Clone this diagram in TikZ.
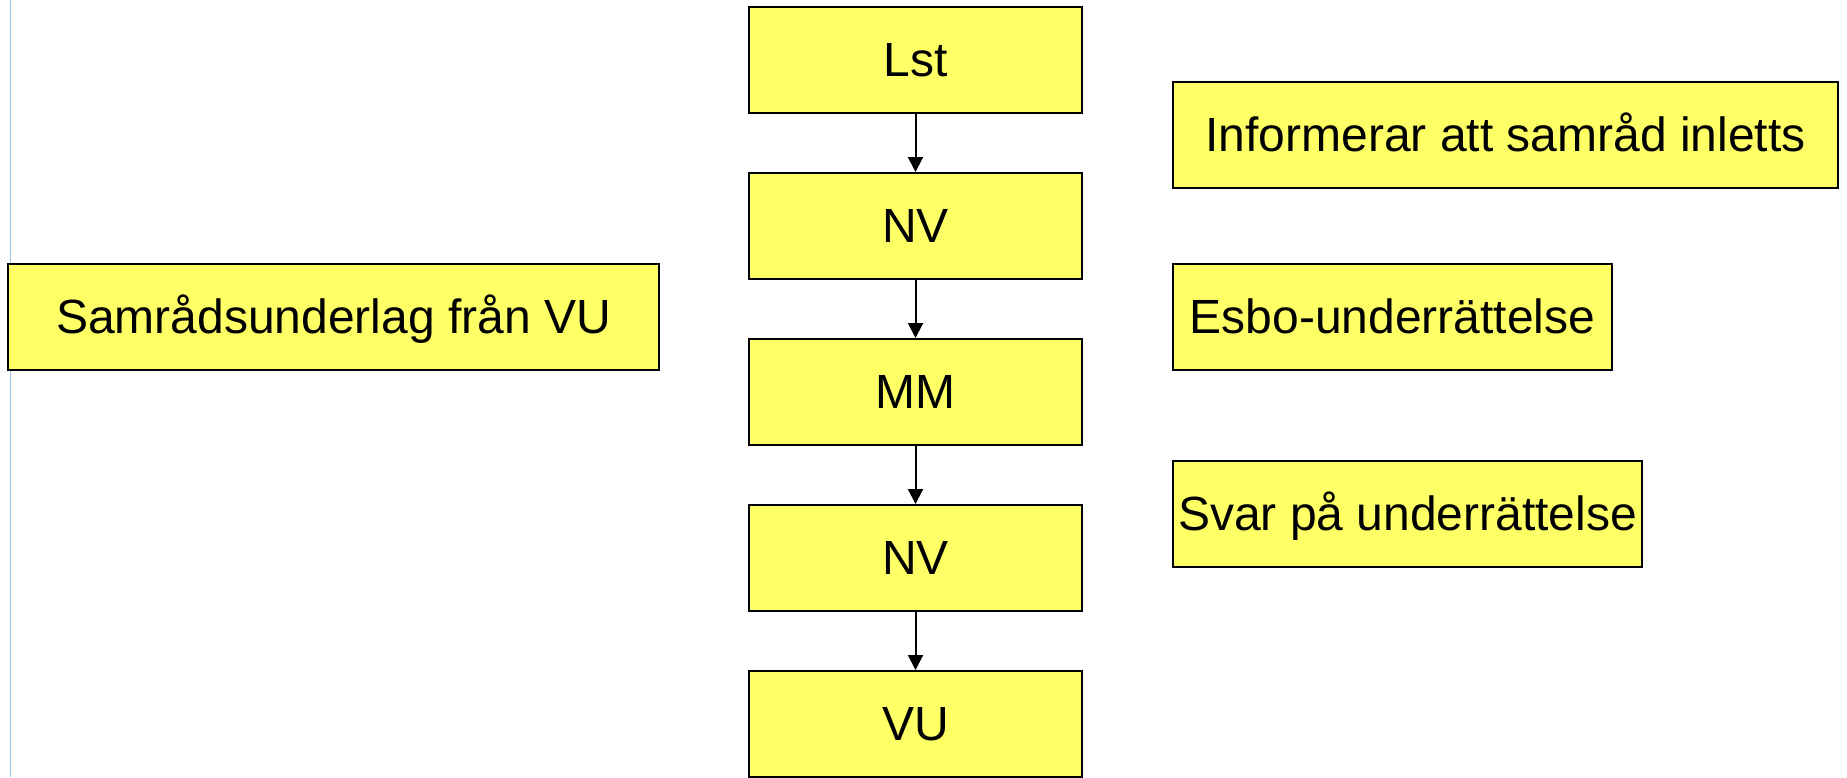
\documentclass[tikz,border=0pt]{standalone}
\usepackage{fontspec}
\setmainfont{Liberation Sans}
\usetikzlibrary{arrows.meta}
\definecolor{boxfill}{HTML}{FFFF66}
\definecolor{sideline}{HTML}{9DC3E6}
\tikzset{
  ybox/.style={draw=black, fill=boxfill, line width=2pt, inner sep=0pt,
    minimum height=106pt, text height=36pt, text depth=3.6pt,
    font=\fontsize{48pt}{56pt}\selectfont},
  flow/.style={line width=2pt, -{Triangle[width=15pt,length=15pt]}}
}
\begin{document}
\begin{tikzpicture}[x=1pt,y=-1pt]
\useasboundingbox (0,0) rectangle (1847,777);
\fill[white] (0,0) rectangle (1847,777);
\draw[sideline, line width=1.2pt] (10.5,0) -- (10.5,777);
\node[ybox, minimum width=333pt] (lst) at (915.5,60) {Lst};
\node[ybox, minimum width=333pt] (nv1) at (915.5,226) {NV};
\node[ybox, minimum width=333pt] (mm) at (915.5,392) {MM};
\node[ybox, minimum width=333pt] (nv2) at (915.5,558) {NV};
\node[ybox, minimum width=333pt] (vu) at (915.5,724) {VU};
\node[ybox, minimum width=651pt] (sam) at (333.5,317) {Samrådsunderlag från VU};
\node[ybox, minimum width=665pt] (inf) at (1505.5,135) {Informerar att samråd inletts};
\node[ybox, minimum width=439pt] (esbo) at (1392.5,317) {Esbo-underrättelse};
\node[ybox, minimum width=469pt] (svar) at (1407.5,514) {Svar på underrättelse};
\draw[flow] (lst) -- (nv1);
\draw[flow] (nv1) -- (mm);
\draw[flow] (mm) -- (nv2);
\draw[flow] (nv2) -- (vu);
\end{tikzpicture}
\end{document}
